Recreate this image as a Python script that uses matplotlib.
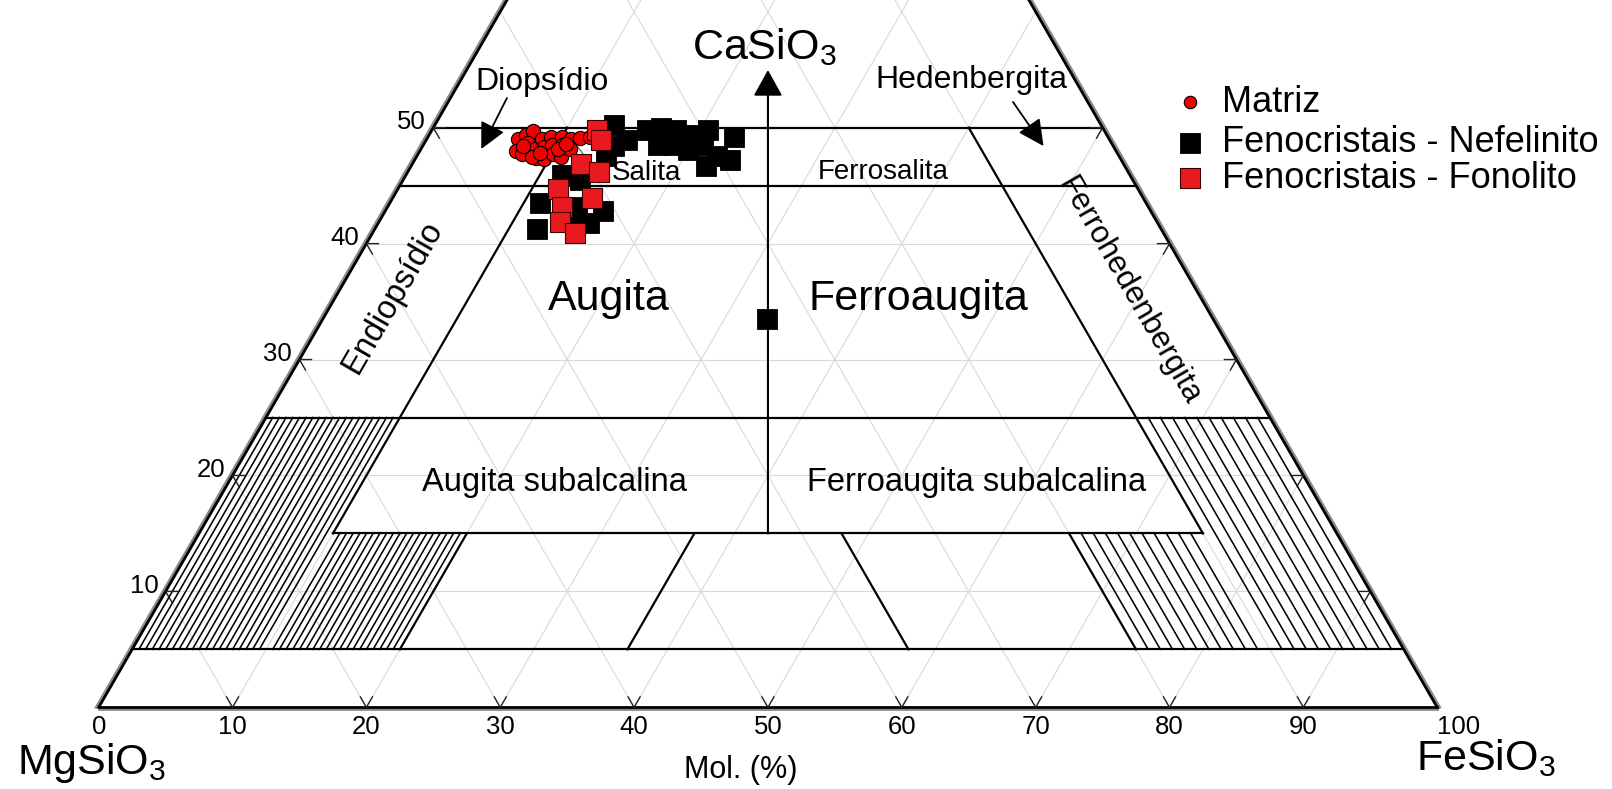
import numpy as np
import matplotlib.pyplot as plt
from matplotlib.transforms import offset_copy

plt.rcParams['font.family'] = ['Liberation Sans', 'DejaVu Sans']
plt.rcParams['mathtext.fontset'] = 'custom'
plt.rcParams['mathtext.rm'] = 'Liberation Sans'
plt.rcParams['mathtext.default'] = 'regular'

# composicoes em mol %: Wo = CaSiO3, Fs = FeSiO3 (En = 100 - Wo - Fs)
matriz_wo = [49.0, 49.4, 49.7, 48.7, 48.0, 47.7, 48.2, 49.0, 48.3, 47.4, 47.3, 49.2, 48.5,
             47.7, 47.5, 49.2, 48.5, 49.0, 48.2, 49.1, 49.2, 47.5, 47.8, 48.2, 48.6, 48.4]
matriz_fs = [6.8, 7.2, 7.6, 7.7, 7.2, 7.8, 8.5, 8.6, 9.1, 9.0, 9.6, 9.2, 9.6,
             10.1, 10.8, 10.0, 10.4, 10.8, 11.1, 11.4, 12.1, 8.6, 9.1, 10.2, 10.6, 7.5]

nef_wo = [50.2, 49.8, 49.8, 49.4, 49.8, 49.2, 47.2, 46.7, 48.5, 48.5, 48.9, 48.4, 47.6,
          48.1, 50.0, 48.5, 47.6, 45.9, 45.5, 43.5, 41.3, 42.8, 41.8, 43.2, 42.3, 33.5]
nef_fs = [13.4, 16.1, 18.2, 19.7, 20.6, 22.9, 23.6, 22.0, 20.9, 17.5, 15.0, 14.3, 14.1,
          20.0, 17.0, 18.7, 22.4, 11.7, 13.2, 11.2, 12.1, 16.3, 15.7, 13.9, 14.6, 33.2]

fon_wo = [49.8, 48.9, 46.9, 46.2, 44.7, 43.2, 43.9, 41.9, 40.9]
fon_fs = [12.3, 13.1, 12.6, 14.3, 12.0, 13.0, 14.9, 13.5, 15.1]

bottom_ticks = [0, 10, 20, 30, 40, 50, 60, 70, 80, 90, 100]
side_ticks = [10, 20, 30, 40, 50]

H = np.sqrt(3) / 2


def tern(wo, fs=None, en=None):
    wo = np.asarray(wo, float)
    if fs is None:
        fs = 100 - wo - np.asarray(en, float)
    fs = np.asarray(fs, float)
    return fs + wo / 2, wo * H


fig = plt.figure(figsize=(16.12, 7.89), dpi=100)
ax = fig.add_axes([0, 0, 1, 1])
ax.set_xlim(-7.374, 113.06)
ax.set_ylim(-6.10, 52.84)
ax.axis('off')

# grade
grid_kw = dict(color='#d9d9d9', lw=0.8, zorder=1)
for k in range(10, 100, 10):
    x, y = tern([0, 100 - k], fs=[k, k])
    ax.plot(x, y, **grid_kw)
    x, y = tern([0, 100 - k], en=[k, k])
    ax.plot(x, y, **grid_kw)
for k in range(10, 50, 10):
    x, y = tern([k, k], fs=[0, 100 - k])
    ax.plot(x, y, **grid_kw)

# hachuras
hatch_kw = dict(color='black', lw=1.15, zorder=2)
for k in range(1, 20):
    f = k * 0.5
    x, y = tern([5, 25], fs=[f, f])
    ax.plot(x, y, **hatch_kw)
    f = 10 + k * 0.5
    x, y = tern([5, 15], fs=[f, f])
    ax.plot(x, y, **hatch_kw)
for k in range(1, 11):
    e = k * 10 / 11
    x, y = tern([5, 25], en=[e, e])
    ax.plot(x, y, **hatch_kw)
    e = 10 + k * 10 / 11
    x, y = tern([5, 15], en=[e, e])
    ax.plot(x, y, **hatch_kw)

# limites dos campos
line_kw = dict(color='black', lw=1.6, zorder=3)
for wo in [5, 25, 45, 50]:
    x, y = tern([wo, wo], fs=[0, 100 - wo])
    ax.plot(x, y, **line_kw)
x, y = tern([15, 15], fs=[10, 75])
ax.plot(x, y, **line_kw)
for val, lo, hi in [(10, 15, 50), (20, 5, 15), (37, 5, 15)]:
    x, y = tern([lo, hi], fs=[val, val])
    ax.plot(x, y, **line_kw)
    x, y = tern([lo, hi], en=[val, val])
    ax.plot(x, y, **line_kw)

# lados do triangulo
edges = [([0, 50], [0, 100 * H], -2.5, 0), ([100, 50], [0, 100 * H], 2.5, 0),
         ([0, 100], [0, 0], 0, -2)]
for ex, ey, dx, dy in edges:
    ax.plot(ex, ey, color='#8a8a8a', lw=2.0, zorder=4,
            transform=offset_copy(ax.transData, fig=fig, x=dx, y=dy, units='dots'))
    ax.plot(ex, ey, color='black', lw=2.0, zorder=5)

# marcas dos eixos
tk = dict(color='#222222', lw=1.0, zorder=5)
L = 0.9
for k in bottom_ticks[1:-1]:
    ax.plot([k - 0.5 * L, k, k + 0.5 * L], [L * H, 0, L * H], **tk)
for k in side_ticks:
    px, py = tern(k, fs=0)
    ax.plot([px + L, px, px + 0.5 * L], [py, py, py - L * H], **tk)
    px, py = tern(k, en=0)
    ax.plot([px - L, px, px - 0.5 * L], [py, py, py - L * H], **tk)

for k in bottom_ticks:
    xpos = k + 1.6 if k == 100 else k
    ax.text(xpos, -1.45, str(k), fontsize=18.5, ha='center', va='center')
for k in side_ticks:
    px, py = tern(k, fs=0)
    ax.text(px - 0.55, py + 0.4, str(k), fontsize=18.5, ha='right', va='center')

# seta central
x0, y0 = tern(15, fs=42.5)
ax.annotate('', xy=(50, 47.61), xytext=(x0, y0),
            arrowprops=dict(arrowstyle='-|>,head_length=0.9,head_width=0.5',
                            mutation_scale=18, color='black', lw=1.5,
                            shrinkA=0, shrinkB=0), zorder=5)

# setas dos rotulos
for start, end in [((30.5, 45.52), (28.58, 41.71)), ((68.31, 45.22), (70.59, 41.93))]:
    ax.annotate('', xy=end, xytext=start,
                arrowprops=dict(arrowstyle='-|>,head_length=0.8,head_width=0.4',
                                mutation_scale=20, color='black', lw=1.3,
                                shrinkA=0, shrinkB=0), zorder=5)
ax.plot([35.59, 36.33], [42.14, 41.14], color='#555555', lw=0.7, zorder=5)

# rotulos dos campos
ax.text(49.74, 48.4, 'CaSiO$_3$', fontsize=31, ha='center', va='baseline')
ax.text(-0.54, -4.98, 'MgSiO$_3$', fontsize=31, ha='center', va='baseline')
ax.text(103.6, -4.68, 'FeSiO$_3$', fontsize=31, ha='center', va='baseline')
ax.text(48.0, -5.28, 'Mol. (%)', fontsize=22, ha='center', va='baseline')

ax.text(33.16, 46.12, 'Diopsídio', fontsize=23, ha='center', va='baseline')
ax.text(65.21, 46.25, 'Hedenbergita', fontsize=23, ha='center', va='baseline')
ax.text(40.96, 39.39, 'Salita', fontsize=20, ha='center', va='baseline')
ax.text(58.63, 39.45, 'Ferrosalita', fontsize=20, ha='center', va='baseline')
ax.text(38.12, 29.65, 'Augita', fontsize=31, ha='center', va='baseline')
ax.text(61.25, 29.65, 'Ferroaugita', fontsize=31, ha='center', va='baseline')
ax.text(34.02, 16.16, 'Augita subalcalina', fontsize=23.5, ha='center', va='baseline')
ax.text(65.62, 16.16, 'Ferroaugita subalcalina', fontsize=23.5, ha='center', va='baseline')
ax.text(21.93, 30.65, 'Endiopsídio', fontsize=23.5, ha='center', va='center',
        rotation=60, rotation_mode='anchor')
ax.text(76.97, 31.1, 'Ferrohedenbergita', fontsize=22.5, ha='center', va='center',
        rotation=-60, rotation_mode='anchor')

# pontos analisados
mx, my = tern(matriz_wo, fs=matriz_fs)
ax.scatter(mx, my, s=105, marker='o', facecolor='#f00000', edgecolor='black',
           linewidth=0.8, zorder=6)
nx, ny = tern(nef_wo, fs=nef_fs)
ax.scatter(nx, ny, s=190, marker='s', facecolor='black', edgecolor='black',
           linewidth=0.6, zorder=7)
fx, fy = tern(fon_wo, fs=fon_fs)
ax.scatter(fx, fy, s=190, marker='s', facecolor='#e81a1f', edgecolor='#3a0000',
           linewidth=0.8, zorder=8)

# legenda
leg_y = [45.22, 42.16, 39.54]
leg_labels = ['Matriz', 'Fenocristais - Nefelinito', 'Fenocristais - Fonolito']
ax.scatter([81.53], [leg_y[0]], s=80, marker='o', facecolor='#f00000',
           edgecolor='black', linewidth=0.8, zorder=6)
ax.scatter([81.53], [leg_y[1]], s=200, marker='s', facecolor='black',
           edgecolor='black', linewidth=0.6, zorder=6)
ax.scatter([81.53], [leg_y[2]], s=200, marker='s', facecolor='#e81a1f',
           edgecolor='#3a0000', linewidth=0.8, zorder=6)
for yy, lab in zip(leg_y, leg_labels):
    ax.text(83.92, yy, lab, fontsize=26, ha='left', va='center')

fig.savefig('out.png', dpi=100, facecolor='white')
